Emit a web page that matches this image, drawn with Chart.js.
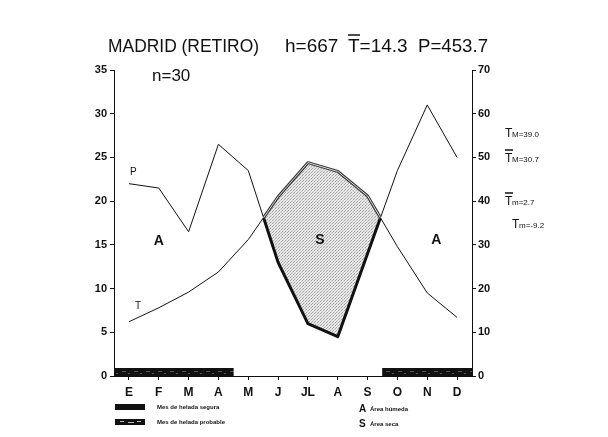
<!DOCTYPE html>
<html>
<head>
<meta charset="utf-8">
<script src="https://cdn.jsdelivr.net/npm/chart.js@4.4.1/dist/chart.umd.min.js"></script>
<style>
  html, body { margin: 0; padding: 0; background: #fff; }
  #wrap { width: 608px; height: 437px; }
</style>
</head>
<body>
<div id="wrap"><canvas id="diagram"></canvas></div>
<script>
// datos climáticos (lectura del diagrama)
const months = ['E', 'F', 'M', 'A', 'M', 'J', 'JL', 'A', 'S', 'O', 'N', 'D'];
const temperature = [6.2, 7.8, 9.6, 11.9, 15.6, 20.5, 24.4, 23.4, 20.6, 14.8, 9.5, 6.7];
const precipitation = [44, 43, 33, 53, 47, 26, 12, 9, 28, 47, 62, 50];
const frostProbable = [1, 1, 1, 1, 0, 0, 0, 0, 0, 1, 1, 1];
const tempTicks = [0, 5, 10, 15, 20, 25, 30, 35];
const precipTicks = [0, 10, 20, 30, 40, 50, 60, 70];

const INK = '#111';
const FONT = '"Liberation Sans", Arial, sans-serif';

function makePattern(draw, w, h) {
    const c = document.createElement('canvas');
    c.width = w; c.height = h;
    draw(c.getContext('2d'));
    return document.getElementById('diagram').getContext('2d').createPattern(c, 'repeat');
}

// punteado gris del área seca
const dryPattern = makePattern(g => {
    g.fillStyle = '#e6e6e6';
    g.fillRect(0, 0, 3, 3);
    g.fillStyle = '#a8a8a8';
    g.fillRect(0, 0, 1, 1);
    g.fillRect(2, 1, 1, 1);
    g.fillStyle = '#cacaca';
    g.fillRect(1, 2, 1, 1);
}, 3, 3);

// barra negra con trazos claros (helada probable)
const frostPattern = makePattern(g => {
    g.fillStyle = '#111';
    g.fillRect(0, 0, 12, 8);
    g.fillStyle = '#555';
    g.fillRect(2, 3, 4, 1);
    g.fillRect(8, 5, 2, 1);
}, 12, 8);

function tracePath(ctx, pts) {
    ctx.beginPath();
    pts.forEach((p, i) => i ? ctx.lineTo(p.x, p.y) : ctx.moveTo(p.x, p.y));
}

// contorno del área seca: P grueso y T con doble trazo
const dryOutline = {
    id: 'dryOutline',
    afterDatasetsDraw(chart) {
        const ctx = chart.ctx;
        const area = chart.chartArea;
        const tPts = chart.getDatasetMeta(0).data;
        const pPts = chart.getDatasetMeta(1).data;
        const last = tPts.length - 1;

        ctx.save();
        ctx.lineJoin = 'round';
        // zona por debajo de T
        ctx.beginPath();
        ctx.moveTo(tPts[0].x, area.bottom);
        tPts.forEach(p => ctx.lineTo(p.x, p.y));
        ctx.lineTo(tPts[last].x, area.bottom);
        ctx.closePath();
        ctx.clip();
        tracePath(ctx, pPts);
        ctx.strokeStyle = INK;
        ctx.lineWidth = 3;
        ctx.stroke();
        ctx.restore();

        ctx.save();
        ctx.lineJoin = 'round';
        // zona por encima de P
        ctx.beginPath();
        ctx.moveTo(pPts[0].x, area.top);
        pPts.forEach(p => ctx.lineTo(p.x, p.y));
        ctx.lineTo(pPts[last].x, area.top);
        ctx.closePath();
        ctx.clip();
        tracePath(ctx, tPts);
        ctx.strokeStyle = '#333';
        ctx.lineWidth = 3;
        ctx.stroke();
        tracePath(ctx, tPts);
        ctx.strokeStyle = '#f2f2f2';
        ctx.lineWidth = 0.9;
        ctx.stroke();
        ctx.restore();
    }
};

const annotations = {
    id: 'annotations',
    afterDraw(chart) {
        const ctx = chart.ctx;
        const x = chart.scales.x;
        ctx.save();
        ctx.fillStyle = INK;
        ctx.strokeStyle = INK;
        ctx.textBaseline = 'alphabetic';

        // título
        ctx.font = '19px ' + FONT;
        ctx.fillText('MADRID (RETIRO)', 108, 52, 151);
        ctx.fillText('h=667', 285, 52, 56);
        ctx.fillText('T=14.3', 348, 52, 64);
        ctx.fillText('P=453.7', 418, 52, 70);
        ctx.lineWidth = 1.5;
        ctx.beginPath(); ctx.moveTo(348, 35); ctx.lineTo(360, 35); ctx.stroke();

        ctx.font = '17px ' + FONT;
        ctx.fillText('n=30', 152, 81, 39);

        // etiquetas de las curvas y áreas
        ctx.font = '10px ' + FONT;
        ctx.fillText('P', 130, 175);
        ctx.fillText('T', 135, 309);
        ctx.font = 'bold 14px ' + FONT;
        ctx.textAlign = 'center';
        ctx.fillText('A', x.getPixelForValue(1), 245);
        ctx.fillText('S', x.getPixelForValue(6.4), 244);
        ctx.fillText('A', x.getPixelForValue(10.3), 244);

        // temperaturas extremas
        ctx.textAlign = 'left';
        const extremes = [
            ['M=39.0', 137, false],
            ['M=30.7', 162, true],
            ['m=2.7', 205, true],
            ['m=-9.2', 228, false]
        ];
        extremes.forEach(([txt, y, bar], k) => {
            const x0 = k === 3 ? 512 : 505;
            ctx.font = '12px ' + FONT;
            ctx.fillText('T', x0, y);
            ctx.font = '8px ' + FONT;
            ctx.fillText(txt, x0 + 7, y, 36);
            if (bar) {
                ctx.lineWidth = 1.5;
                ctx.beginPath(); ctx.moveTo(x0, y - 12); ctx.lineTo(x0 + 8, y - 12); ctx.stroke();
            }
        });

        // leyenda
        ctx.fillStyle = INK;
        ctx.fillRect(115, 404, 30, 6);
        ctx.fillRect(115, 419, 30, 6);
        ctx.fillStyle = '#bbb';
        ctx.fillRect(120, 421, 4, 1);
        ctx.fillRect(128, 422, 6, 1);
        ctx.fillRect(137, 421, 4, 1);
        ctx.fillStyle = INK;
        ctx.font = 'bold 6px ' + FONT;
        ctx.fillText('Mes de helada segura', 157, 409);
        ctx.fillText('Mes de helada probable', 157, 424);
        ctx.fillText('Área húmeda', 370, 411);
        ctx.fillText('Área seca', 370, 426);
        ctx.font = 'bold 10px ' + FONT;
        ctx.fillText('A', 359, 412);
        ctx.fillText('S', 359, 427);
        ctx.restore();
    }
};

new Chart(document.getElementById('diagram'), {
    type: 'line',
    data: {
        labels: months,
        datasets: [{
            label: 'T',
            data: temperature,
            yAxisID: 'y',
            borderColor: INK,
            borderWidth: 1,
            pointRadius: 0,
            tension: 0,
            order: 1,
            fill: { target: 1, above: dryPattern, below: 'rgba(0,0,0,0)' }
        }, {
            label: 'P',
            data: precipitation,
            yAxisID: 'y1',
            borderColor: INK,
            borderWidth: 1,
            pointRadius: 0,
            tension: 0,
            order: 0,
            fill: false
        }, {
            type: 'bar',
            label: 'helada',
            data: frostProbable.map(v => v || null),
            yAxisID: 'yFrost',
            backgroundColor: frostPattern,
            barPercentage: 1,
            categoryPercentage: 1,
            order: 2
        }]
    },
    options: {
        responsive: true,
        maintainAspectRatio: false,
        animation: false,
        layout: { padding: { top: 70, left: 0, right: 0, bottom: 0 } },
        plugins: { legend: { display: false }, tooltip: { enabled: false } },
        scales: {
            x: {
                offset: true,
                grid: { drawOnChartArea: false, drawTicks: true, tickLength: 4, color: INK, offset: false },
                border: { color: INK, width: 1 },
                ticks: { color: INK, font: { family: FONT, size: 12, weight: 'bold' }, padding: 5, maxRotation: 0, autoSkip: false },
                afterFit: s => { s.height = 61; }
            },
            y: {
                position: 'left',
                min: 0, max: 35,
                afterBuildTicks: s => { s.ticks = tempTicks.map(v => ({ value: v })); },
                grid: { drawOnChartArea: false, drawTicks: true, tickLength: 4, color: INK },
                border: { color: INK, width: 1 },
                ticks: { color: INK, font: { family: FONT, size: 11, weight: 'bold' }, padding: 3 },
                afterFit: s => { s.width = 114; }
            },
            y1: {
                position: 'right',
                min: 0, max: 70,
                afterBuildTicks: s => { s.ticks = precipTicks.map(v => ({ value: v })); },
                grid: { drawOnChartArea: false, drawTicks: true, tickLength: 4, color: INK },
                border: { color: INK, width: 1 },
                ticks: { color: INK, font: { family: FONT, size: 11, weight: 'bold' }, padding: 2 },
                afterFit: s => { s.width = 136; }
            },
            yFrost: {
                display: false,
                min: 0, max: 40
            }
        }
    },
    plugins: [dryOutline, annotations]
});
</script>
</body>
</html>
